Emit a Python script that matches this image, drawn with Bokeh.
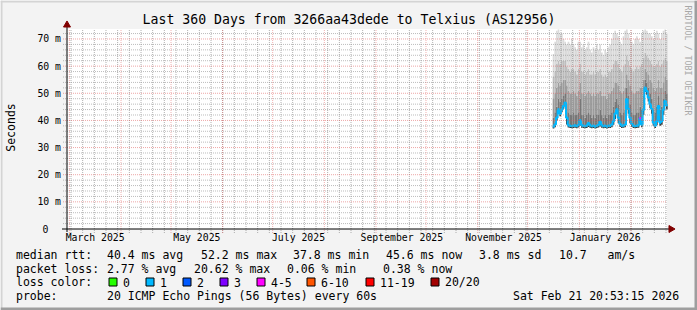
import pandas as pd
from math import pi
from bokeh.plotting import figure
from bokeh.models import ColumnDataSource
from bokeh.core.properties import value
from bokeh.embed import file_html
from bokeh.resources import INLINE

# ---------------- data ----------------
TITLE = "Last 360 Days from 3266aa43dede to Telxius (AS12956)"
X_START = "2025-02-27 14:24"
X_END = "2026-02-22 14:24"
Y_MAX = 73.68
Y_TICKS = [0, 10, 20, 30, 40, 50, 60, 70]
Y_TICK_LABELS = ["0", "10 m", "20 m", "30 m", "40 m", "50 m", "60 m", "70 m"]
MONTH_LABELS = ["March 2025", "May 2025", "July 2025", "September 2025",
                "November 2025", "January 2026"]
MONTH_LABEL_AT = ["2025-03-16 12:00", "2025-05-16 12:00", "2025-07-16 12:00",
                  "2025-09-16 12:00", "2025-11-16 12:00", "2026-01-16 12:00"]

FIRST_DAY = "2025-12-16 12:00"   # one value per day from here on
median_rtt = [37.8, 38.5, 41.0, 44.0, 42.5, 44.0, 45.3, 46.5, 41.0, 38.2,
              38.0, 37.9, 38.0, 38.1, 37.9, 38.3, 40.0, 38.2, 38.0, 37.9,
              38.1, 39.0, 38.2, 37.9, 38.0, 37.8, 38.0, 38.3, 39.5, 38.2,
              37.9, 38.0, 37.8, 38.0, 38.0, 38.5, 39.8, 42.5, 44.0, 41.0,
              38.7, 38.0, 38.1, 38.4, 47.9, 44.2, 41.0, 38.7, 38.0, 37.9,
              38.0, 38.2, 40.8, 38.5, 44.0, 52.0, 50.8, 48.4, 46.0, 44.2,
              39.2, 38.0, 39.8, 45.3, 39.2, 39.8, 44.0, 47.2, 45.6]
ping_min = [37.0, 37.5, 40.0, 43.0, 41.5, 43.0, 44.3, 45.5, 38.5, 37.4,
            37.2, 37.1, 37.2, 37.3, 37.1, 37.4, 38.0, 37.3, 37.2, 37.1,
            37.2, 37.6, 37.3, 37.1, 37.2, 37.0, 37.2, 37.4, 37.8, 37.3,
            37.1, 37.2, 37.0, 37.2, 37.2, 37.5, 38.4, 40.5, 42.5, 39.0,
            37.6, 37.2, 37.3, 37.5, 46.5, 42.5, 39.0, 37.6, 37.2, 37.1,
            37.2, 37.3, 38.5, 37.5, 42.0, 50.5, 49.5, 47.0, 44.5, 42.5,
            38.0, 37.2, 38.3, 43.5, 38.0, 38.4, 42.0, 45.5, 44.0]
ping_p60 = [41, 43, 45, 48, 47, 48, 49, 50, 46, 43,
            42, 42, 43, 42, 42, 43, 48, 42, 42, 41,
            42, 43, 42, 41, 42, 41, 42, 42, 44, 42,
            41, 42, 41, 42, 42, 43, 45, 47, 48, 46,
            43, 42, 43, 44, 52, 49, 46, 43, 42, 42,
            43, 43, 45, 44, 49, 55, 54, 52, 50, 48,
            44, 43, 45, 49, 44, 45, 48, 51, 50]
ping_p75 = [48, 50, 52, 54, 53, 54, 55, 55, 53, 51,
            50, 50, 51, 50, 49, 51, 54, 50, 50, 49,
            50, 51, 50, 49, 50, 49, 50, 50, 51, 49,
            49, 49, 48, 50, 50, 51, 52, 54, 54, 53,
            51, 50, 51, 52, 57, 55, 53, 51, 50, 50,
            51, 51, 52, 52, 55, 59, 58, 57, 55, 54,
            52, 51, 52, 55, 52, 52, 54, 56, 55]
ping_p90 = [56, 58, 61, 62, 61, 62, 62, 62, 60, 59,
            58, 59, 59, 58, 57, 59, 61, 58, 58, 57,
            58, 59, 57, 57, 58, 57, 58, 58, 59, 57,
            56, 57, 56, 58, 58, 59, 61, 62, 62, 61,
            59, 58, 60, 61, 64, 62, 60, 59, 58, 59,
            60, 59, 60, 61, 63, 65, 64, 63, 62, 61,
            60, 60, 61, 62, 60, 61, 62, 63, 62]
ping_max = [64.5, 69, 73, 73.5, 72, 72, 70, 69, 68, 69,
            68, 70, 68, 67, 66, 69, 69, 67, 68, 66,
            67, 69, 66, 65, 67, 66, 68, 66, 68, 65,
            64, 66, 65, 67, 68, 70, 72, 73, 72, 71,
            69, 68, 71, 73, 73.5, 72, 70, 69, 68, 70,
            71, 70, 69, 72, 73, 73.5, 73, 72, 72, 71,
            70, 72, 73, 72, 70, 72, 73, 73.5, 72]
loss_class = [1] * 52 + [4] + [1] * 16     # index into LOSS_LABELS

LOSS_LABELS = ["0", "1", "2", "3", "4-5", "6-10", "11-19", "20/20"]
LOSS_COLORS = ["#26ff00", "#00b8ff", "#0059ff", "#7e00ff", "#ff00ff",
               "#ff5500", "#ff0000", "#a10000"]

ROW_HEADS = ["median rtt:", "packet loss:", "loss color:", "probe:"]
RTT_STATS = ["40.4 ms avg", "52.2 ms max", "37.8 ms min", "45.6 ms now",
             "3.8 ms sd", "10.7", "am/s"]
LOSS_STATS = ["2.77 % avg", "20.62 % max", "0.06 % min", "0.38 % now"]
PROBE_TEXT = "20 ICMP Echo Pings (56 Bytes) every 60s"
STAMP_TEXT = "Sat Feb 21 20:53:15 2026"
WATERMARK = "RRDTOOL / TOBI OETIKER"
Y_LABEL = "Seconds"

# ---------------- layout / styles ----------------
W, H = 697, 310
FL, FT, FW, FH = 66.5, 28.5, 600, 200       # plot area in canvas pixels
FB = FT + FH
MONO = "DejaVu Sans Mono"
BG = "#F3F3F3"
MGRID = "#DE5050"
GRID = "#8F8F8F"
DAY_MS = 86400000.0


def ms(s):
    return pd.Timestamp(s).value / 1e6


PXD = (ms(X_END) - ms(X_START)) / FW        # ms per pixel
KY = Y_MAX / FH                             # value per pixel
X0 = ms(X_START) - FL * PXD


def X(px):
    return X0 + px * PXD


def Y(py):
    return Y_MAX - (py - FT) * KY


p = figure(width=W, height=H, x_range=(X(0), X(W)), y_range=(Y(H), Y(0)),
           x_axis_type=None, y_axis_type=None, title=None,
           min_border_left=0, min_border_right=0, min_border_top=0, min_border_bottom=0,
           toolbar_location=None, output_backend="svg",
           background_fill_color=BG, border_fill_color=BG, outline_line_color=None)

# white canvas of the graph
p.quad(left=[ms(X_START)], right=[ms(X_END)], bottom=[0], top=[Y_MAX],
       fill_color="white", line_color=None)

# smoke
days = pd.date_range(FIRST_DAY, periods=len(median_rtt), freq="D")
src = ColumnDataSource(dict(x=days, lo=ping_min, med=median_rtt, a=ping_p60,
                            b=ping_p75, c=ping_p90, top=ping_max))
for bot, top, col in [("lo", "med", "#3c3c3c"), ("med", "a", "#777777"),
                      ("a", "b", "#9d9d9d"), ("b", "c", "#bebebe"),
                      ("c", "top", "#dbdbdb")]:
    p.vbar(x="x", width=DAY_MS, bottom=bot, top=top, source=src,
           fill_color=col, line_color=None)

# median line coloured by loss
p.step(x=days, y=median_rtt, mode="center", line_color=LOSS_COLORS[1], line_width=2)
half = pd.Timedelta(hours=12)
p.segment(x0=days - half, y0=median_rtt, x1=days + half, y1=median_rtt,
          line_color=[LOSS_COLORS[k] for k in loss_class], line_width=2.2)

# grid (above the smoke, like rrdtool), with short ticks outside the axes
month_starts = [t.value / 1e6 for t in pd.date_range("2025-03-01", "2026-02-01", freq="MS")]
week_starts = [t.value / 1e6 for t in pd.date_range("2025-03-02", "2026-02-22", freq="7D")]
y_minor = [v for v in range(2, 74, 2) if v % 10]
y_major = Y_TICKS[1:]

p.segment(x0=week_starts, x1=week_starts, y0=[Y(FB + 4)] * len(week_starts),
          y1=[Y_MAX] * len(week_starts), line_color=GRID, line_alpha=0.7,
          line_dash="1 1", line_width=1)
p.segment(x0=[X(FL - 4)] * len(y_minor), x1=[ms(X_END)] * len(y_minor),
          y0=y_minor, y1=y_minor, line_color=GRID, line_alpha=0.6,
          line_dash="1 1", line_width=1)
p.segment(x0=month_starts, x1=month_starts, y0=[Y(FB + 4)] * len(month_starts),
          y1=[Y_MAX] * len(month_starts), line_color=MGRID, line_alpha=0.45,
          line_dash="1 1", line_width=1)
p.segment(x0=[X(FL - 4)] * len(y_major), x1=[ms(X_END)] * len(y_major),
          y0=y_major, y1=y_major, line_color=MGRID, line_alpha=0.5,
          line_dash="1 1", line_width=1)

# axes lines and arrows
p.segment(x0=[X(FL - 5), ms(X_START)], x1=[X(FL + FW + 2), ms(X_START)],
          y0=[0, Y(FB + 3)], y1=[0, Y(FT - 2)], line_color="black", line_width=1)
p.scatter(x=[ms(X_START)], y=[Y(FT - 4)], marker="triangle", size=7,
          fill_color="#800000", line_color="#800000")
p.scatter(x=[X(FL + FW + 4)], y=[0], marker="triangle", size=7, angle=-pi / 2,
          fill_color="#800000", line_color="#800000")


def txt(xs, ys, texts, size, align="left", color="black", angle=0.0):
    p.text(x=xs, y=ys, text=texts, text_font=value(MONO),
           text_font_size=value(f"{size}px"), text_align=value(align),
           text_baseline=value("middle"), text_color=value(color), angle=angle)


# title, watermark, y axis label
txt([X(348.5)], [Y(19)], [TITLE], 13.2, align="center")
txt([X(687.5)], [Y(5)], [WATERMARK], 8.3, color="#a8a8a8", angle=-pi / 2)
txt([X(10.5)], [Y(127)], [Y_LABEL], 11.5, align="center", angle=pi / 2)

# y tick labels
txt([X(60.5)] * 7, Y_TICKS[1:], Y_TICK_LABELS[1:], 9.8, align="right")
txt([X(42)], Y_TICKS[:1], Y_TICK_LABELS[:1], 9.8, align="left")

# x tick labels
txt([ms(d) for d in MONTH_LABEL_AT], [Y(236.8)] * len(MONTH_LABELS), MONTH_LABELS, 9.8,
    align="center")

# legend
LEG = 11.5
ROW_Y = [254.2, 268.2, 281.9, 295.9]
txt([X(15.5)] * 4, [Y(v) for v in ROW_Y], ROW_HEADS, LEG)
txt([X(v) for v in [106.5, 200.5, 292.5, 385.5, 478.5, 558.5, 607]],
    [Y(ROW_Y[0])] * len(RTT_STATS), RTT_STATS, LEG)
txt([X(v) for v in [106.5, 193.5, 286.5, 382.5]],
    [Y(ROW_Y[1])] * len(LOSS_STATS), LOSS_STATS, LEG)
box_x = [108.5, 145.5, 182.5, 219.5, 256.5, 306.5, 365.5, 430.5]
p.quad(left=[X(v) for v in box_x], right=[X(v + 8) for v in box_x],
       top=[Y(277.5)] * 8, bottom=[Y(285.5)] * 8,
       fill_color=LOSS_COLORS, line_color="black", line_width=1)
txt([X(v + 14) for v in box_x], [Y(ROW_Y[2])] * 8, LOSS_LABELS, LEG)
txt([X(106.5), X(512.5)], [Y(ROW_Y[3])] * 2, [PROBE_TEXT, STAMP_TEXT], LEG)

# 3D border of the canvas
p.quad(left=[X(0), X(0), X(W - 3), X(0)], right=[X(W), X(2), X(W), X(W)],
       top=[Y(0), Y(0), Y(0), Y(H - 3)], bottom=[Y(2), Y(H), Y(H), Y(H)],
       fill_color=["#D4D4D4", "#D4D4D4", "#9E9E9E", "#9E9E9E"], line_color=None)

open("out.html", "w").write(file_html(p, INLINE))
